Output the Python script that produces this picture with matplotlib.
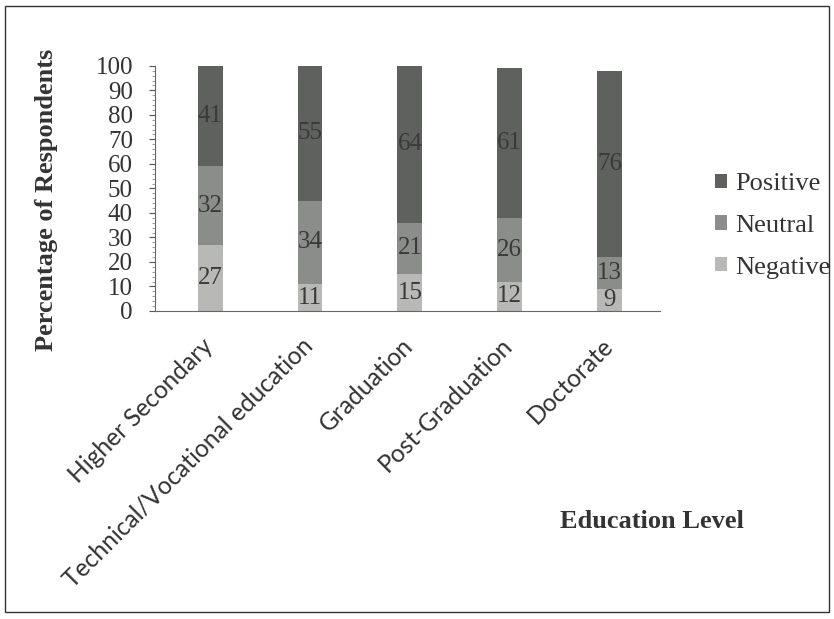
import numpy as np
import matplotlib.pyplot as plt
import matplotlib.transforms as mtransforms
from matplotlib.patches import Rectangle

# valeurs
niveaux = ["Higher Secondary", "Technical/Vocational education", "Graduation",
           "Post-Graduation", "Doctorate"]
negatif = [27, 11, 15, 12, 9]
neutre = [32, 34, 21, 26, 13]
positif = [41, 55, 64, 61, 76]

c_pos = "#5e615e"
c_neu = "#8b8d8a"
c_neg = "#b8b9b6"

fig = plt.figure(figsize=(8.34, 6.19), dpi=100)
fig.patches.append(Rectangle((0.006, 0.012), 0.988, 0.978, transform=fig.transFigure,
                             fill=False, edgecolor="#333333", linewidth=1.0))

ax = fig.add_axes([0.186, 0.4976, 0.605, 0.396])
x = np.arange(len(niveaux))
w = 0.25
neg = np.array(negatif)
neu = np.array(neutre)
pos = np.array(positif)

b1 = ax.bar(x, neg, w, color=c_neg, label="Negative")
b2 = ax.bar(x, neu, w, bottom=neg, color=c_neu, label="Neutral")
b3 = ax.bar(x, pos, w, bottom=neg + neu, color=c_pos, label="Positive")

for vals, bas in [(neg, np.zeros(5)), (neu, neg), (pos, neg + neu)]:
    for i, v in enumerate(vals):
        ax.text(x[i], bas[i] + v / 2, str(v), ha="center", va="center",
                fontsize=18, family="Liberation Serif", color="#3a3a3a")

ax.set_xlim(-0.55, 4.5)
ax.set_ylim(0, 100)
ax.set_yticks(np.arange(0, 101, 10))
ax.set_yticks(np.arange(0, 101, 2), minor=True)
ax.tick_params(axis="y", labelsize=18, length=4, width=0.8, pad=12,
               colors="#555555", labelcolor="#333333")
ax.tick_params(axis="y", which="minor", length=2, width=0.5, colors="#777777")
for t in ax.get_yticklabels():
    t.set_family("Liberation Serif")

ax.set_xticks(x)
ax.set_xticklabels(niveaux, rotation=45, ha="right", rotation_mode="anchor",
                   fontsize=17.7, family="Lato", color="#333333")
ax.tick_params(axis="x", length=0, pad=10)
decal = mtransforms.ScaledTranslation(-9 / 100, -9 / 100, fig.dpi_scale_trans)
for t in ax.get_xticklabels():
    t.set_transform(t.get_transform() + decal)

for s in ["top", "right"]:
    ax.spines[s].set_visible(False)
ax.spines["left"].set_color("#666666")
ax.spines["bottom"].set_color("#666666")

fig.text(0.056, 0.677, "Percentage of Respondents", rotation=90, fontsize=19,
         fontweight="bold", family="Liberation Serif", color="#333333",
         ha="center", va="center")
fig.text(0.782, 0.157, "Education Level", fontsize=19, fontweight="bold",
         family="Liberation Serif", color="#333333", ha="center", va="center")

h, l = ax.get_legend_handles_labels()
leg = fig.legend(h[::-1], l[::-1], loc="center left", bbox_to_anchor=(0.845, 0.635),
                 frameon=False, handlelength=0.45, handleheight=0.45,
                 labelspacing=0.75, handletextpad=0.3, borderaxespad=0,
                 prop={"family": "Liberation Serif", "size": 19})
for t in leg.get_texts():
    t.set_color("#333333")

fig.savefig("out.png", dpi=100)
